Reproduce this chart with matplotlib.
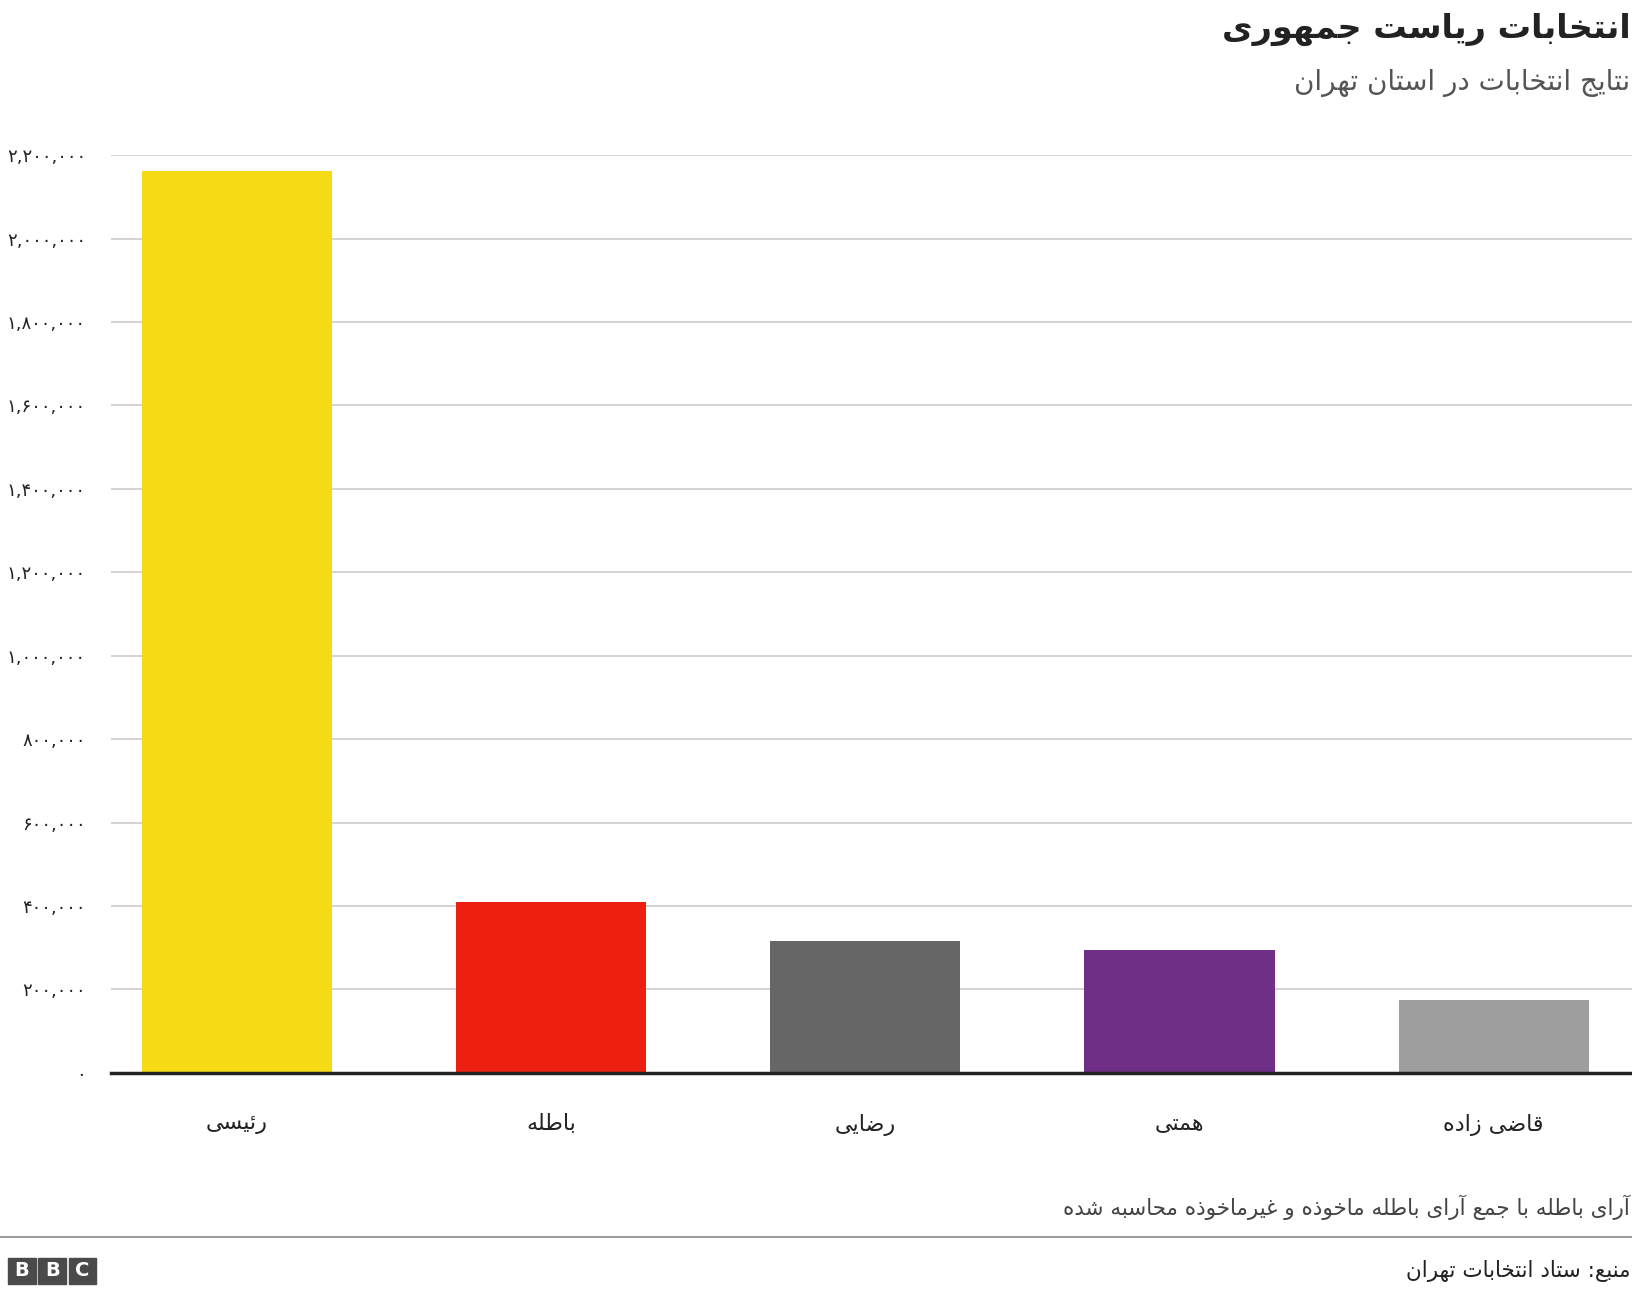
import matplotlib
matplotlib.use("Agg")
import matplotlib.pyplot as plt
from matplotlib.ticker import FuncFormatter
from matplotlib.patches import Rectangle

categories = ["رئیسی", "باطله", "رضایی", "همتی", "قاضی زاده"]
values = [2162000, 410000, 315000, 295000, 175000]
colors = ["#f6da16", "#ec1f10", "#666666", "#702f87", "#9e9e9e"]
title = "انتخابات ریاست جمهوری"
subtitle = "نتایج انتخابات در استان تهران"
note = "آرای باطله با جمع آرای باطله ماخوذه و غیرماخوذه محاسبه شده"
source = "منبع: ستاد انتخابات تهران"

FORMS = {
 0x0627:(0xFE8D,0xFE8E,None,None),0x0622:(0xFE81,0xFE82,None,None),
 0x0626:(0xFE89,0xFE8A,0xFE8B,0xFE8C),0x0628:(0xFE8F,0xFE90,0xFE91,0xFE92),
 0x062A:(0xFE95,0xFE96,0xFE97,0xFE98),0x062B:(0xFE99,0xFE9A,0xFE9B,0xFE9C),
 0x062C:(0xFE9D,0xFE9E,0xFE9F,0xFEA0),0x062D:(0xFEA1,0xFEA2,0xFEA3,0xFEA4),
 0x062E:(0xFEA5,0xFEA6,0xFEA7,0xFEA8),0x062F:(0xFEA9,0xFEAA,None,None),
 0x0630:(0xFEAB,0xFEAC,None,None),0x0631:(0xFEAD,0xFEAE,None,None),
 0x0632:(0xFEAF,0xFEB0,None,None),0x0633:(0xFEB1,0xFEB2,0xFEB3,0xFEB4),
 0x0634:(0xFEB5,0xFEB6,0xFEB7,0xFEB8),0x0635:(0xFEB9,0xFEBA,0xFEBB,0xFEBC),
 0x0636:(0xFEBD,0xFEBE,0xFEBF,0xFEC0),0x0637:(0xFEC1,0xFEC2,0xFEC3,0xFEC4),
 0x0638:(0xFEC5,0xFEC6,0xFEC7,0xFEC8),0x0639:(0xFEC9,0xFECA,0xFECB,0xFECC),
 0x063A:(0xFECD,0xFECE,0xFECF,0xFED0),0x0641:(0xFED1,0xFED2,0xFED3,0xFED4),
 0x0642:(0xFED5,0xFED6,0xFED7,0xFED8),0x0644:(0xFEDD,0xFEDE,0xFEDF,0xFEE0),
 0x0645:(0xFEE1,0xFEE2,0xFEE3,0xFEE4),0x0646:(0xFEE5,0xFEE6,0xFEE7,0xFEE8),
 0x0647:(0xFEE9,0xFEEA,0xFEEB,0xFEEC),0x0648:(0xFEED,0xFEEE,None,None),
 0x06CC:(0xFBFC,0xFBFD,0xFBFE,0xFBFF),0x06A9:(0xFB8E,0xFB8F,0xFB90,0xFB91),
 0x06AF:(0xFB92,0xFB93,0xFB94,0xFB95),0x067E:(0xFB56,0xFB57,0xFB58,0xFB59),
 0x0686:(0xFB7A,0xFB7B,0xFB7C,0xFB7D),0x0698:(0xFB8A,0xFB8B,None,None),
}
def dual(c):
    return c is not None and ord(c) in FORMS and FORMS[ord(c)][2] is not None
def shape(s):
    chars = list(s)
    merged = []
    i = 0
    while i < len(chars):
        c = chars[i]
        if c == "ل" and i + 1 < len(chars) and chars[i+1] in "اآ":
            merged.append(("LA", chars[i+1])); i += 2
        else:
            merged.append(c); i += 1
    out = []
    for i, c in enumerate(merged):
        prev = merged[i-1] if i > 0 else None
        nxt = merged[i+1] if i + 1 < len(merged) else None
        pj = isinstance(prev, str) and dual(prev)
        if isinstance(c, tuple):
            iso, fin = (0xFEFB, 0xFEFC) if c[1] == "ا" else (0xFEF5, 0xFEF6)
            out.append(chr(fin if pj else iso)); continue
        if ord(c) not in FORMS:
            out.append(c); continue
        f = FORMS[ord(c)]
        nj = dual(c) and nxt is not None and (isinstance(nxt, tuple) or ord(nxt) in FORMS)
        if pj and nj: out.append(chr(f[3]))
        elif pj: out.append(chr(f[1]))
        elif nj: out.append(chr(f[2]))
        else: out.append(chr(f[0]))
    return "".join(out)[::-1]

def fa_num(v, pos=None):
    s = f"{int(v):,}"
    return "".join(chr(0x06F0 + int(ch)) if ch.isdigit() else ch for ch in s)

plt.rcParams['font.family'] = ['DejaVu Sans']
fig = plt.figure(figsize=(16.32, 12.94), dpi=100)
ax = fig.add_axes([0.068, 0.171, 0.932, 0.709])
x = list(range(len(categories)))
ax.bar(x, values, width=0.605, color=colors, zorder=3)
ax.set_xlim(-0.4, len(categories) - 0.56)
ax.set_ylim(0, 2200000)
ax.set_yticks(range(0, 2200001, 200000))
ax.yaxis.set_major_formatter(FuncFormatter(fa_num))
ax.set_xticks(x)
ax.set_xticklabels([shape(c) for c in categories], fontsize=16, color="#222222")
ax.tick_params(axis="x", length=0, pad=30)
ax.tick_params(axis="y", length=0, pad=18, labelsize=13, colors="#222222")
ax.grid(axis="y", color="#cccccc", lw=1.2, zorder=0)
for sp in ["top", "right", "left"]:
    ax.spines[sp].set_visible(False)
ax.spines["bottom"].set_linewidth(2.5)
ax.spines["bottom"].set_color("#222222")
ax.spines["bottom"].set_zorder(4)

fig.text(0.999, 0.977, shape(title), ha="right", va="center", fontsize=24, fontweight="bold", color="#222222")
fig.text(0.999, 0.936, shape(subtitle), ha="right", va="center", fontsize=20, color="#555555")
fig.text(0.999, 0.067, shape(note), ha="right", va="center", fontsize=15.5, color="#444444")
fig.add_artist(plt.Line2D([0, 1], [0.044, 0.044], color="#888888", lw=1.2, transform=fig.transFigure))
fig.text(0.999, 0.018, shape(source), ha="right", va="center", fontsize=15.5, color="#222222")
for i, L in enumerate("BBC"):
    x0 = 0.005 + i * 0.0185
    fig.add_artist(Rectangle((x0, 0.008), 0.017, 0.02, color="#4a4a4a", transform=fig.transFigure))
    fig.text(x0 + 0.0085, 0.018, L, ha="center", va="center", fontsize=14, fontweight="bold", color="white")
fig.savefig("out.png", dpi=100, facecolor="white")
